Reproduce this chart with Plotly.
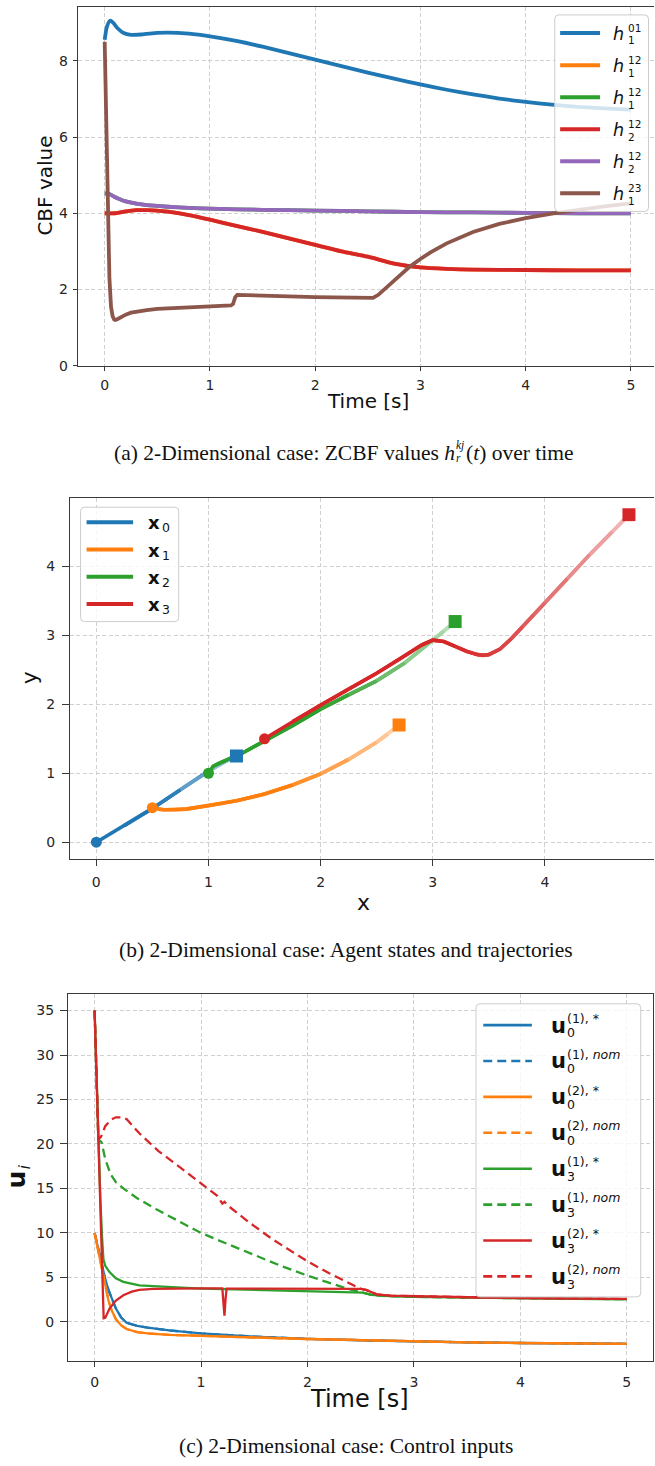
import plotly.graph_objects as go

W, H = 655, 1466
FONT = "DejaVu Sans"
SERIF = "Liberation Serif"

C_BLUE, C_ORANGE, C_GREEN = "#1f77b4", "#ff7f0e", "#2ca02c"
C_RED, C_PURPLE, C_BROWN = "#d62728", "#9467bd", "#8c564b"

# ---------------- (a) ZCBF values ----------------
t_h1_01 = [0, 0.02, 0.05, 0.08, 0.12, 0.18, 0.25, 0.35, 0.5, 0.6, 0.8, 1.0, 1.25, 1.5,
           1.75, 2.0, 2.25, 2.5, 2.75, 3.0, 3.25, 3.5, 3.75, 4.0, 4.25, 4.5, 4.75, 5.0]
h1_01 = [8.55, 8.88, 9.05, 9.0, 8.86, 8.73, 8.68, 8.69, 8.73, 8.74, 8.71, 8.64, 8.52, 8.37,
         8.2, 8.03, 7.86, 7.69, 7.53, 7.38, 7.24, 7.12, 7.01, 6.92, 6.85, 6.79, 6.75, 6.72]

t_h2_12b = [0, 0.1, 0.2, 0.3, 0.4, 0.5, 0.6, 0.8, 1.0, 1.25, 1.5, 1.75, 2.0, 2.25, 2.5,
            2.75, 3.0, 3.25, 3.5, 4.0, 4.5, 5.0]
h2_12b = [4.0, 4.0, 4.05, 4.08, 4.08, 4.07, 4.04, 3.95, 3.83, 3.67, 3.51, 3.34, 3.17, 3.0,
          2.86, 2.68, 2.58, 2.54, 2.52, 2.51, 2.5, 2.5]
# hidden beneath the red curve
t_h1_12a = [0, 0.1, 0.2, 0.3, 0.4, 0.5, 0.6, 0.8, 1.0, 1.25, 1.5, 1.75, 2.0, 2.25, 2.5,
            2.75, 3.0, 3.25, 3.5, 4.0, 4.5, 5.0]
h1_12a = [4.0, 4.0, 4.05, 4.08, 4.08, 4.07, 4.04, 3.95, 3.83, 3.67, 3.51, 3.34, 3.17, 3.0,
          2.86, 2.68, 2.58, 2.54, 2.52, 2.51, 2.5, 2.5]

t_h2_12c = [0, 0.05, 0.1, 0.15, 0.2, 0.3, 0.4, 0.6, 0.8, 1.0, 1.5, 2.0, 2.5, 3.0, 3.5,
            4.0, 4.5, 5.0]
h2_12c = [4.52, 4.5, 4.42, 4.36, 4.31, 4.25, 4.21, 4.17, 4.14, 4.12, 4.09, 4.07, 4.05,
          4.03, 4.02, 4.01, 4.0, 4.0]
# hidden beneath the purple curve
t_h1_12b = [0, 0.05, 0.1, 0.15, 0.2, 0.3, 0.4, 0.6, 0.8, 1.0, 1.5, 2.0, 2.5, 3.0, 3.5,
            4.0, 4.5, 5.0]
h1_12b = [4.52, 4.5, 4.42, 4.36, 4.31, 4.25, 4.21, 4.17, 4.14, 4.12, 4.09, 4.07, 4.05,
          4.03, 4.02, 4.01, 4.0, 4.0]

t_h1_23 = [0, 0.015, 0.03, 0.045, 0.06, 0.075, 0.09, 0.1, 0.12, 0.15, 0.2, 0.25, 0.3, 0.4,
           0.5, 0.75, 1.0, 1.2, 1.22, 1.24, 1.26, 1.3, 1.5, 2.0, 2.5, 2.55, 2.6, 2.7, 2.8,
           2.9, 3.0, 3.1, 3.25, 3.5, 3.75, 4.0, 4.25, 4.5, 4.75, 5.0]
h1_23 = [8.5, 6.4, 4.0, 2.3, 1.55, 1.3, 1.21, 1.2, 1.22, 1.27, 1.34, 1.39, 1.42, 1.46,
         1.49, 1.52, 1.55, 1.58, 1.62, 1.8, 1.86, 1.86, 1.84, 1.8, 1.77, 1.78, 1.86, 2.11,
         2.37, 2.6, 2.8, 2.98, 3.21, 3.51, 3.72, 3.87, 3.99, 4.09, 4.18, 4.26]

names_a = ["h_1^01", "h_1^12", "h_1^12", "h_2^12", "h_2^12", "h_1^23"]
leg_a_sub = ["1", "1", "1", "2", "2", "1"]
leg_a_sup = ["01", "12", "12", "12", "12", "23"]

# ---------------- (b) trajectories ----------------
x0_x = [0, 0.25, 0.5, 0.75, 0.95, 1.05, 1.15, 1.25]
x0_y = [0, 0.24, 0.49, 0.76, 0.98, 1.08, 1.17, 1.25]
x1_x = [0.5, 0.55, 0.6, 0.7, 0.8, 1.0, 1.25, 1.5, 1.75, 2.0, 2.25, 2.5, 2.6, 2.7]
x1_y = [0.5, 0.48, 0.47, 0.47, 0.48, 0.53, 0.6, 0.7, 0.83, 0.99, 1.2, 1.45, 1.57, 1.7]
x2_x = [1.0, 1.04, 1.1, 1.2, 1.3, 1.5, 1.75, 2.0, 2.25, 2.5, 2.75, 3.0, 3.1, 3.2]
x2_y = [1.0, 1.1, 1.15, 1.22, 1.29, 1.47, 1.69, 1.93, 2.14, 2.34, 2.6, 2.93, 3.06, 3.2]
x3_x = [1.5, 1.75, 2.0, 2.25, 2.5, 2.75, 2.9, 3.0, 3.1, 3.2, 3.3, 3.4, 3.45, 3.5, 3.6,
        3.7, 3.8, 3.9, 4.0, 4.2, 4.4, 4.6, 4.75]
x3_y = [1.5, 1.75, 1.99, 2.22, 2.45, 2.7, 2.86, 2.93, 2.91, 2.84, 2.77, 2.72, 2.71, 2.72,
        2.8, 2.95, 3.12, 3.3, 3.47, 3.82, 4.17, 4.5, 4.75]
names_b = ["x_0", "x_1", "x_2", "x_3"]
leg_b_sub = ["0", "1", "2", "3"]

# ---------------- (c) control inputs ----------------
t_u0 = [0, 0.02, 0.04, 0.06, 0.08, 0.1, 0.13, 0.16, 0.2, 0.25, 0.3, 0.4, 0.5, 0.7, 1.0,
        1.5, 2.0, 2.5, 3.0, 3.5, 4.0, 4.5, 5.0]
u0_1_opt = [10.0, 8.9, 7.8, 6.7, 5.7, 4.8, 3.6, 2.6, 1.5, 0.5, -0.1, -0.45, -0.65, -0.95,
            -1.3, -1.65, -1.9, -2.06, -2.2, -2.3, -2.37, -2.42, -2.46]
u0_1_nom = [10.0, 8.9, 7.8, 6.7, 5.7, 4.8, 3.6, 2.6, 1.5, 0.5, -0.1, -0.45, -0.65, -0.95,
            -1.3, -1.65, -1.9, -2.06, -2.2, -2.3, -2.37, -2.42, -2.46]
u0_2_opt = [10.0, 8.8, 7.5, 6.2, 5.0, 3.9, 2.4, 1.3, 0.3, -0.4, -0.8, -1.15, -1.3, -1.45,
            -1.58, -1.75, -1.92, -2.07, -2.2, -2.3, -2.37, -2.42, -2.46]
u0_2_nom = [10.0, 8.8, 7.5, 6.2, 5.0, 3.9, 2.4, 1.3, 0.3, -0.4, -0.8, -1.15, -1.3, -1.45,
            -1.58, -1.75, -1.92, -2.07, -2.2, -2.3, -2.37, -2.42, -2.46]

t_u3_1_opt = [0, 0.035, 0.045, 0.055, 0.07, 0.083, 0.1, 0.14, 0.2, 0.27, 0.42, 0.6, 0.73,
              1.0, 1.5, 2.0, 2.45, 2.52, 2.6, 2.7, 2.8, 3.0, 3.5, 4.0, 4.5, 5.0]
u3_1_opt = [35.0, 20.5, 17.0, 13.5, 9.5, 7.0, 6.3, 5.6, 4.9, 4.5, 4.1, 3.95, 3.9, 3.75,
            3.6, 3.47, 3.38, 3.3, 3.05, 2.92, 2.86, 2.82, 2.73, 2.65, 2.6, 2.55]

t_u3_1_nom = [0, 0.035, 0.065, 0.1, 0.15, 0.2, 0.27, 0.4, 0.58, 0.8, 1.0, 1.22, 1.53,
              1.75, 2.0, 2.2, 2.33, 2.45, 2.52, 2.6, 2.7, 2.8, 3.0, 3.5, 4.0, 4.5, 5.0]
u3_1_nom = [35.0, 20.5, 20.2, 18.3, 16.6, 15.7, 15.0, 13.9, 12.65, 11.3, 10.0, 8.9, 7.4,
            6.3, 5.2, 4.4, 3.9, 3.5, 3.3, 3.05, 2.92, 2.86, 2.82, 2.73, 2.65, 2.6, 2.55]

t_u3_2_opt = [0, 0.035, 0.06, 0.075, 0.085, 0.1, 0.14, 0.2, 0.27, 0.35, 0.42, 0.55, 0.73,
              1.0, 1.2, 1.21, 1.22, 1.23, 1.24, 1.5, 2.0, 2.45, 2.5, 2.55, 2.65, 2.78,
              3.0, 3.5, 4.0, 4.5, 5.0]
u3_2_opt = [35.0, 20.5, 9.5, 2.5, 0.4, 0.45, 1.5, 2.4, 3.0, 3.4, 3.6, 3.72, 3.77, 3.77,
            3.77, 2.5, 0.7, 2.5, 3.75, 3.75, 3.72, 3.7, 3.72, 3.6, 3.1, 2.95, 2.88, 2.77,
            2.68, 2.62, 2.58]

t_u3_2_nom = [0, 0.035, 0.06, 0.1, 0.15, 0.2, 0.25, 0.3, 0.42, 0.6, 0.8, 1.0, 1.15, 1.2,
              1.22, 1.25, 1.45, 1.67, 1.85, 2.0, 2.2, 2.33, 2.45, 2.52, 2.55, 2.65, 2.78,
              3.0, 3.5, 4.0, 4.5, 5.0]
u3_2_nom = [35.0, 20.5, 20.8, 22.0, 22.7, 23.0, 23.0, 22.8, 21.2, 19.2, 17.4, 15.6, 14.2,
            13.3, 13.5, 13.1, 11.2, 9.3, 7.9, 6.8, 5.5, 4.7, 4.0, 3.65, 3.6, 3.1, 2.95,
            2.88, 2.77, 2.68, 2.62, 2.58]

names_c = ["u_0^(1),*", "u_0^(1),nom", "u_0^(2),*", "u_0^(2),nom",
           "u_3^(1),*", "u_3^(1),nom", "u_3^(2),*", "u_3^(2),nom"]
leg_c_sub = ["0", "0", "0", "0", "3", "3", "3", "3"]
leg_c_sup = ["(1), *", "(1), <i>nom</i>", "(2), *", "(2), <i>nom</i>",
             "(1), *", "(1), <i>nom</i>", "(2), *", "(2), <i>nom</i>"]

# caption (a) is split so that the sub/superscript can be stacked
cap_a_main = "(a) 2-Dimensional case: ZCBF values <i>h</i>"
cap_a_sup = "<i>kj</i>"
cap_a_sub = "<i>r</i>"
cap_a_tail = "(<i>t</i>) over time"
cap_b = "(b) 2-Dimensional case: Agent states and trajectories"
cap_c = "(c) 2-Dimensional case: Control inputs"

DASH = "9px,5px"
fig = go.Figure()

# ---- (a) traces
series_a = [(t_h1_01, h1_01, C_BLUE, "spline"), (t_h1_12a, h1_12a, C_ORANGE, "spline"),
            (t_h1_12b, h1_12b, C_GREEN, "spline"), (t_h2_12b, h2_12b, C_RED, "spline"),
            (t_h2_12c, h2_12c, C_PURPLE, "spline"), (t_h1_23, h1_23, C_BROWN, "linear")]
for i, (t, v, c, shp) in enumerate(series_a):
    fig.add_trace(go.Scatter(x=t, y=v, mode="lines", name=names_a[i], showlegend=False,
                             line=dict(color=c, width=3.8, shape=shp, smoothing=0.6),
                             xaxis="x", yaxis="y"))


# ---- (b) traces with fading tail
def blend(hexc, a):
    r, g, b = int(hexc[1:3], 16), int(hexc[3:5], 16), int(hexc[5:7], 16)
    return "rgb(%d,%d,%d)" % (round(r * a + 255 * (1 - a)), round(g * a + 255 * (1 - a)),
                              round(b * a + 255 * (1 - a)))


traj = [(x0_x, x0_y, C_BLUE), (x1_x, x1_y, C_ORANGE), (x2_x, x2_y, C_GREEN), (x3_x, x3_y, C_RED)]
for k, (xs, ys, c) in enumerate(traj):
    n = len(xs)
    seg = [((xs[i + 1] - xs[i]) ** 2 + (ys[i + 1] - ys[i]) ** 2) ** 0.5 for i in range(n - 1)]
    tot = sum(seg)
    cum = 0.0
    for i in range(n - 1):
        mid = (cum + seg[i] / 2) / tot
        cum += seg[i]
        a = 1.0 if mid < 0.45 else 1.0 - 0.68 * (mid - 0.45) / 0.55
        j = min(i + 3, n)
        fig.add_trace(go.Scatter(x=xs[i:j], y=ys[i:j], mode="lines",
                                 line=dict(color=blend(c, a), width=3.6),
                                 name=names_b[k], showlegend=False,
                                 xaxis="x2", yaxis="y2", hoverinfo="skip"))
for k, (xs, ys, c) in enumerate(traj):
    fig.add_trace(go.Scatter(x=[xs[0]], y=[ys[0]], mode="markers", name=names_b[k],
                             marker=dict(symbol="circle", size=11, color=c),
                             showlegend=False, xaxis="x2", yaxis="y2"))
for k, (xs, ys, c) in enumerate(traj):
    fig.add_trace(go.Scatter(x=[xs[-1]], y=[ys[-1]], mode="markers", name=names_b[k],
                             marker=dict(symbol="square", size=13, color=c),
                             showlegend=False, xaxis="x2", yaxis="y2"))

# ---- (c) traces
series_c = [(t_u0, u0_1_opt, C_BLUE, "solid"), (t_u0, u0_1_nom, C_BLUE, DASH),
            (t_u0, u0_2_opt, C_ORANGE, "solid"), (t_u0, u0_2_nom, C_ORANGE, DASH),
            (t_u3_1_opt, u3_1_opt, C_GREEN, "solid"), (t_u3_1_nom, u3_1_nom, C_GREEN, DASH),
            (t_u3_2_opt, u3_2_opt, C_RED, "solid"), (t_u3_2_nom, u3_2_nom, C_RED, DASH)]
for i, (t, v, c, d) in enumerate(series_c):
    fig.add_trace(go.Scatter(x=t, y=v, mode="lines", name=names_c[i], showlegend=False,
                             line=dict(color=c, width=2.3, dash=d),
                             xaxis="x3", yaxis="y3"))


def PX(p):
    return p / W


def PY(p):
    return 1 - p / H


def axis(ticklen, standoff, **kw):
    d = dict(showgrid=True, gridcolor="#d0d0d0", griddash="4px,2.5px", gridwidth=0.8,
             zeroline=False, showline=True, linecolor="#3a3a3a", linewidth=1.2,
             ticks="outside", ticklen=ticklen, tickwidth=1.1, tickcolor="#3a3a3a",
             ticklabelstandoff=standoff,
             tickfont=dict(family=FONT, size=14, color="#262626"))
    d.update(kw)
    return d


fig.update_layout(
    width=W, height=H, margin=dict(l=0, r=0, t=0, b=0),
    paper_bgcolor="white", plot_bgcolor="white", showlegend=False,
    font=dict(family=FONT, color="#111111"),
    xaxis=axis(4.5, 2, domain=[PX(78.5), 1.0], range=[-0.25, 5.22], dtick=1, tick0=0,
               mirror=True, anchor="y"),
    yaxis=axis(4.5, 2, domain=[PY(367.7), PY(6.7)], range=[0, 9.42], dtick=2, tick0=0,
               anchor="x"),
    xaxis2=axis(6.5, 4, domain=[PX(69.8), 1.0], range=[-0.2375, 4.9735], dtick=1, tick0=0,
                mirror=True, anchor="y2"),
    yaxis2=axis(6.5, 4, domain=[PY(863.3), PY(501)], range=[-0.2375, 4.9875], dtick=1,
                tick0=0, anchor="x2"),
    xaxis3=axis(5.5, 3, domain=[PX(68.1), PX(654.4)], range=[-0.25, 5.25], dtick=1, tick0=0,
                mirror=True, anchor="y3"),
    yaxis3=axis(7, 3, domain=[PY(1368.3), PY(999.3)], range=[-4.375, 36.875], dtick=5,
                tick0=0, mirror=True, anchor="x3"),
)


def text(s, x, y, size, family=FONT, angle=0, xanchor="center", color="#111111"):
    fig.add_annotation(text=s, x=PX(x), y=PY(y), xref="paper", yref="paper",
                       showarrow=False, xanchor=xanchor, yanchor="middle", textangle=angle,
                       borderpad=0, borderwidth=0,
                       font=dict(family=family, size=size, color=color))


# axis titles
text("Time [s]", 368.5, 403, 20)
text("CBF value", 44.7, 187, 20, angle=-90)
text("x", 364, 907, 22)
text("y", 29, 681, 22, angle=-90)
text("Time [s]", 360.5, 1407, 24)
text("<b>u</b>", 17, 1186, 25, angle=-90)
text("<i>i</i>", 24.5, 1173.2, 15, angle=-90)

# captions
CAP = 21.5
text(cap_a_main, 455.5, 455, CAP, family=SERIF, xanchor="right")
text(cap_a_sup, 457, 447.6, 11.5, family=SERIF, xanchor="left")
text(cap_a_sub, 457, 460.5, 11.5, family=SERIF, xanchor="left")
text(cap_a_tail, 467, 455, CAP, family=SERIF, xanchor="left")
text(cap_b, 347, 955, CAP, family=SERIF)
text(cap_c, 347, 1454, CAP, family=SERIF)


def legend_box(x0, y0, x1, y1, r=4):
    p = (f"M {PX(x0 + r)},{PY(y0)} L {PX(x1 - r)},{PY(y0)} Q {PX(x1)},{PY(y0)} {PX(x1)},{PY(y0 + r)} "
         f"L {PX(x1)},{PY(y1 - r)} Q {PX(x1)},{PY(y1)} {PX(x1 - r)},{PY(y1)} "
         f"L {PX(x0 + r)},{PY(y1)} Q {PX(x0)},{PY(y1)} {PX(x0)},{PY(y1 - r)} "
         f"L {PX(x0)},{PY(y0 + r)} Q {PX(x0)},{PY(y0)} {PX(x0 + r)},{PY(y0)} Z")
    fig.add_shape(type="path", path=p, xref="paper", yref="paper",
                  fillcolor="rgba(255,255,255,0.8)", line=dict(color="#cccccc", width=1))


def legend_line(x0, x1, y, color, width, dash="solid"):
    fig.add_shape(type="line", xref="paper", yref="paper", x0=PX(x0), x1=PX(x1),
                  y0=PY(y), y1=PY(y), line=dict(color=color, width=width, dash=dash))


# legend (a)
legend_box(555.6, 15, 649.5, 212.7)
cols_a = [C_BLUE, C_ORANGE, C_GREEN, C_RED, C_PURPLE, C_BROWN]
for i in range(6):
    yi = 33.3 + i * 32.2
    legend_line(561, 601, yi, cols_a[i], 4)
    text("<i>h</i>", 613.5, yi + 1.2, 17.5, xanchor="left")
    text(leg_a_sup[i], 628.8, yi - 4.9, 10.5, xanchor="left")
    text(leg_a_sub[i], 628.8, yi + 7.4, 10.5, xanchor="left")

# legend (b)
legend_box(80.7, 510, 179, 625)
cols_b = [C_BLUE, C_ORANGE, C_GREEN, C_RED]
for i in range(4):
    yi = 525 + i * 27.4
    legend_line(86.7, 133.3, yi, cols_b[i], 4)
    text("<b>x</b>", 148, yi + 0.7, 18, xanchor="left")
    text(leg_b_sub[i], 162, yi + 5.8, 12.5, xanchor="left")

# legend (c)
legend_box(476.7, 1009.3, 641.7, 1304)
cols_c = [C_BLUE, C_BLUE, C_ORANGE, C_ORANGE, C_GREEN, C_GREEN, C_RED, C_RED]
for i in range(8):
    yi = 1030.7 + i * 36.1
    legend_line(484, 532.7, yi, cols_c[i], 2.6, "solid" if i % 2 == 0 else DASH)
    text("<b>u</b>", 551.5, yi + 0.5, 21, xanchor="left")
    text(leg_c_sub[i], 568, yi + 7.7, 12.5, xanchor="left")
    text(leg_c_sup[i], 568, yi - 6.9, 12.5, xanchor="left")

fig.write_html("out.html", config={"displayModeBar": False},
               post_script="document.body.style.margin='0';document.body.style.padding='0';"
                           "document.documentElement.style.overflow='hidden';")
